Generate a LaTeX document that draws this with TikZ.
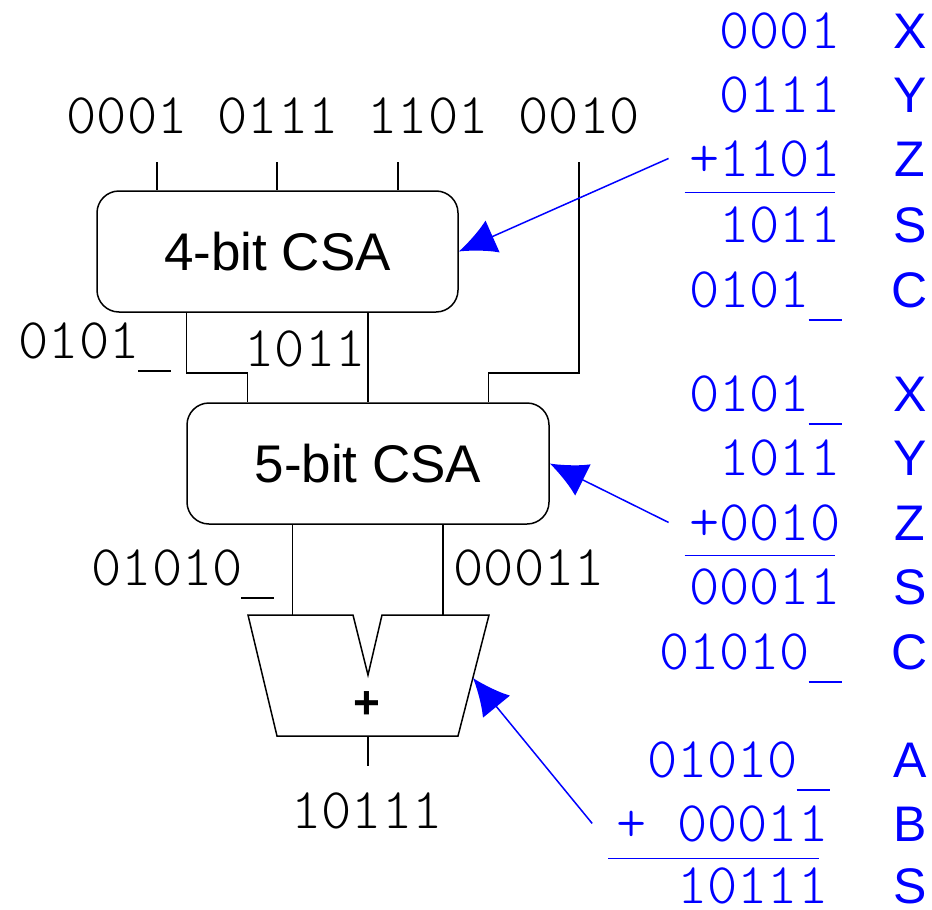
\documentclass[tikz,border=0pt]{standalone}
\usepackage{fontspec}
\setmainfont{Liberation Sans}
\newfontfamily\bitfamily{lmmonolt10-regular.otf}
\usepackage{tikz}
\usetikzlibrary{arrows.meta}
\definecolor{calcblue}{RGB}{0,0,255}
\newcommand\bitsize{\fontsize{57.5}{64}\selectfont\bitfamily}
% the blank carry-in position
\newcommand\carry{\makebox[0.525em]{\rule[-14pt]{33pt}{2.2pt}}}

\begin{document}
\begin{tikzpicture}[x=1pt,y=-1pt,line width=1.5pt,
    csa/.style={draw,rounded corners=22pt,minimum width=361pt,minimum height=121pt,
                font=\fontsize{53}{60}\selectfont},
    bits/.style={inner sep=0pt,font=\bitsize},
    tag/.style={inner sep=0pt,anchor=base,text=calcblue,font=\fontsize{50}{60}\selectfont},
    ptr/.style={calcblue,-{Latex[length=37pt,width=35pt]}}]
  \useasboundingbox (0,0) rectangle (932,910);
  % the two carry-save adders
  \node[csa] (csaA) at (277.5,251.5) {4-bit CSA};
  \node[csa,minimum width=362pt] (csaB) at (368,463.5) {5-bit CSA};
  % input words
  \foreach \v/\x in {0001/127,0111/278,1101/428,0010/579}
     \node[bits,anchor=base] (w\v) at (\x,133) {\v};
  \foreach \x [count=\i] in {157,277,398,579}
     \coordinate (in\i) at (\x,162);
  \foreach \i in {1,2,3}
     \draw (in\i) -- (in\i |- csaA.north);
  % wires between the CSAs
  \coordinate (jA) at (186.5,373);
  \coordinate (jB) at (247.5,373);
  \coordinate (jC) at (579,373);
  \coordinate (jD) at (488.5,373);
  \draw (csaA.south -| jA) -- (jA) -- (jB) -- (jB |- csaB.north);
  \draw (csaA.south -| csaB.north) -- (csaB.north);
  \draw (in4) -- (jC) -- (jD) -- (jD |- csaB.north);
  \node[bits,anchor=base west] (cA) at (18,358) {0101\carry};
  \node[bits,anchor=base west] (sA) at (244,366) {1011};
  % final adder
  \coordinate (aTL) at (248,615);
  \coordinate (aN1) at (353,615);
  \coordinate (aNv) at (368,675);
  \coordinate (aN2) at (382,615);
  \coordinate (aTR) at (489,615);
  \coordinate (aBR) at (458,736);
  \coordinate (aBL) at (277,736);
  \draw (aTL) -- (aN1) -- (aNv) -- (aN2) -- (aTR) -- (aBR) -- (aBL) -- cycle;
  \node[font=\bfseries\fontsize{46}{60}\selectfont] (plus) at (367,705) {+};
  \coordinate (aInA) at (292.5,615);
  \coordinate (aInB) at (443,615);
  \coordinate (aOut) at (368,736);
  \coordinate (outEnd) at (368,766);
  \coordinate (adR) at (473,678);
  \draw (csaB.south -| aInA) -- (aInA);
  \draw (csaB.south -| aInB) -- (aInB);
  \draw (aOut) -- (outEnd);
  \node[bits,anchor=base west] (cB) at (91,585) {01010\carry};
  \node[bits,anchor=base west] (sB) at (453,585) {00011};
  \node[bits,anchor=base] (sum) at (367,828) {10111};
  % worked sums on the right
  \begin{scope}[bits/.append style={text=calcblue}]
  \foreach \v/\l/\y [count=\i] in {0001/X/48,0111/Y/112,+1101/Z/176,1011/S/242,0101\carry/C/307} {
     \node[bits,anchor=base east] (p\i) at (841,\y) {\v};
     \node[tag] (pl\i) at (910,\y) {\l};
  }
  \foreach \v/\l/\y [count=\i] in {0101\carry/X/411,1011/Y/475,+0010/Z/540,00011/S/604,01010\carry/C/669} {
     \node[bits,anchor=base east] (q\i) at (841,\y) {\v};
     \node[tag] (ql\i) at (910,\y) {\l};
  }
  \foreach \v/\l/\y [count=\i] in {01010\carry/A/777,+ 00011/B/841,10111/S/903} {
     \node[bits,anchor=base east] (r\i) at (829,\y) {\v};
     \node[tag] (rl\i) at (910,\y) {\l};
  }
  \end{scope}
  \draw[calcblue] ([xshift=-4pt,yshift=-15pt]p3.south west) -- ([xshift=-6pt,yshift=-15pt]p3.south east);
  \draw[calcblue] ([xshift=-4pt,yshift=-14pt]q3.south west) -- ([xshift=-6pt,yshift=-14pt]q3.south east);
  \draw[calcblue] ([xshift=-8pt,yshift=-16pt]r2.south west) -- ([xshift=-10pt,yshift=-16pt]r2.south east);
  % pointers
  \draw[ptr] ([xshift=-20pt]p3.west) -- (csaA.east);
  \draw[ptr] ([xshift=-20pt]q3.west) -- (csaB.east);
  \draw[ptr] ([xshift=-24pt]r2.west) -- (adR);
\end{tikzpicture}
\end{document}
